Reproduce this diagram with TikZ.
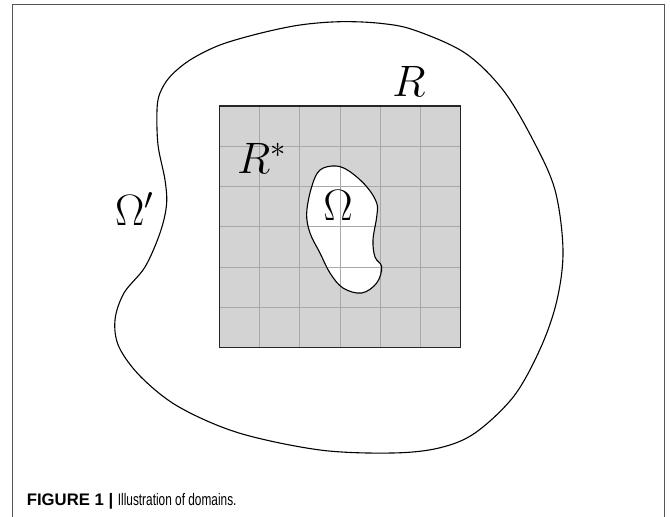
\documentclass[tikz,border=0pt]{standalone}
\usepackage{fontspec}
\usepackage{tikz}
\usetikzlibrary{positioning, calc}
\setsansfont{Liberation Sans}
\newfontfamily\captionlight[FakeStretch=0.71]{Liberation Sans}
\definecolor{frameColor}{HTML}{555555}
\definecolor{cellFill}{HTML}{D3D3D3}
\definecolor{gridColor}{HTML}{A8A8A8}
\newcommand{\setsym}[1]{\scalebox{2.12}{$#1$}}

\begin{document}
\begin{tikzpicture}[
    x=1pt, y=-1pt,
    every node/.style={inner sep=0pt},
    setlabel/.style={font=\fontsize{20.74}{24}\selectfont, anchor=base},
    boundary/.style={draw=black, line width=1.1pt},
    captiontext/.style={font=\fontsize{16.7}{20}\selectfont\sffamily, anchor=base west},
]
\useasboundingbox (0,0) rectangle (670,517);

% === PANEL FRAME ===
\draw[frameColor, line width=1.1pt] (12.3,517) -- (12.3,4.7) -- (664.3,4.7) -- (664.3,517);

% === OUTER DOMAIN (Omega') ===
\draw[boundary] plot[smooth cycle, tension=0.55] coordinates {
    (340,21.7) (380,23.3) (414,30) (465,53) (503,90) (533,140) (555,190)
    (563,250) (557,300) (541,347) (514,396) (475,433)
    (439,448) (392,453) (320,450) (239,433) (179,407) (141,377) (119,347)
    (115,320) (124,293) (145,267) (160,233) (166.5,205) (165,180)
    (158,145) (157,110) (160,93) (170,76.7) (190,60) (220,45) (260,33.3)
    (300,25)};

% === RECTANGLE R WITH GRID ===
\fill[cellFill] (219.3,106) rectangle (460.8,347.7);

% inner domain (Omega), white
\path[fill=white] plot[smooth cycle, tension=0.6] coordinates {
    (336,166) (350,171.7) (366.7,186.7) (376.7,203) (376.7,216.7)
    (373,240) (375,257) (381.7,267) (376.7,283) (361.7,293) (343,288)
    (330,273) (320,253) (310,233) (306.7,213) (311.7,186.7) (320,170)};

\foreach \k in {1,...,5} {
    \draw[gridColor, line width=0.9pt] ($(219.3,106)+(\k*40.25,0)$) -- ++(0,241.7);
    \draw[gridColor, line width=0.9pt] ($(219.3,106)+(0,\k*40.28)$) -- ++(241.5,0);
}
\draw[draw=black!85, line width=1.3pt] (219.3,106) rectangle (460.8,347.7);

\draw[boundary] plot[smooth cycle, tension=0.6] coordinates {
    (336,166) (350,171.7) (366.7,186.7) (376.7,203) (376.7,216.7)
    (373,240) (375,257) (381.7,267) (376.7,283) (361.7,293) (343,288)
    (330,273) (320,253) (310,233) (306.7,213) (311.7,186.7) (320,170)};

% === LABELS ===
\node[setlabel] (labR) at (409,96.7) {\setsym{R}};
\node[setlabel, anchor=base west] (labRstar) at (237,173) {\setsym{R^*}};
\node[setlabel] (labOmega) at (338,220) {\setsym{\Omega}};
\node[setlabel, anchor=base west] (labOmegaP) at (115,225) {\setsym{\Omega'}};

% === CAPTION ===
\node[captiontext] (caption) at (26.7,505)
    {\textbf{FIGURE 1 |} {\captionlight Illustration of domains.}};
\end{tikzpicture}
\end{document}
